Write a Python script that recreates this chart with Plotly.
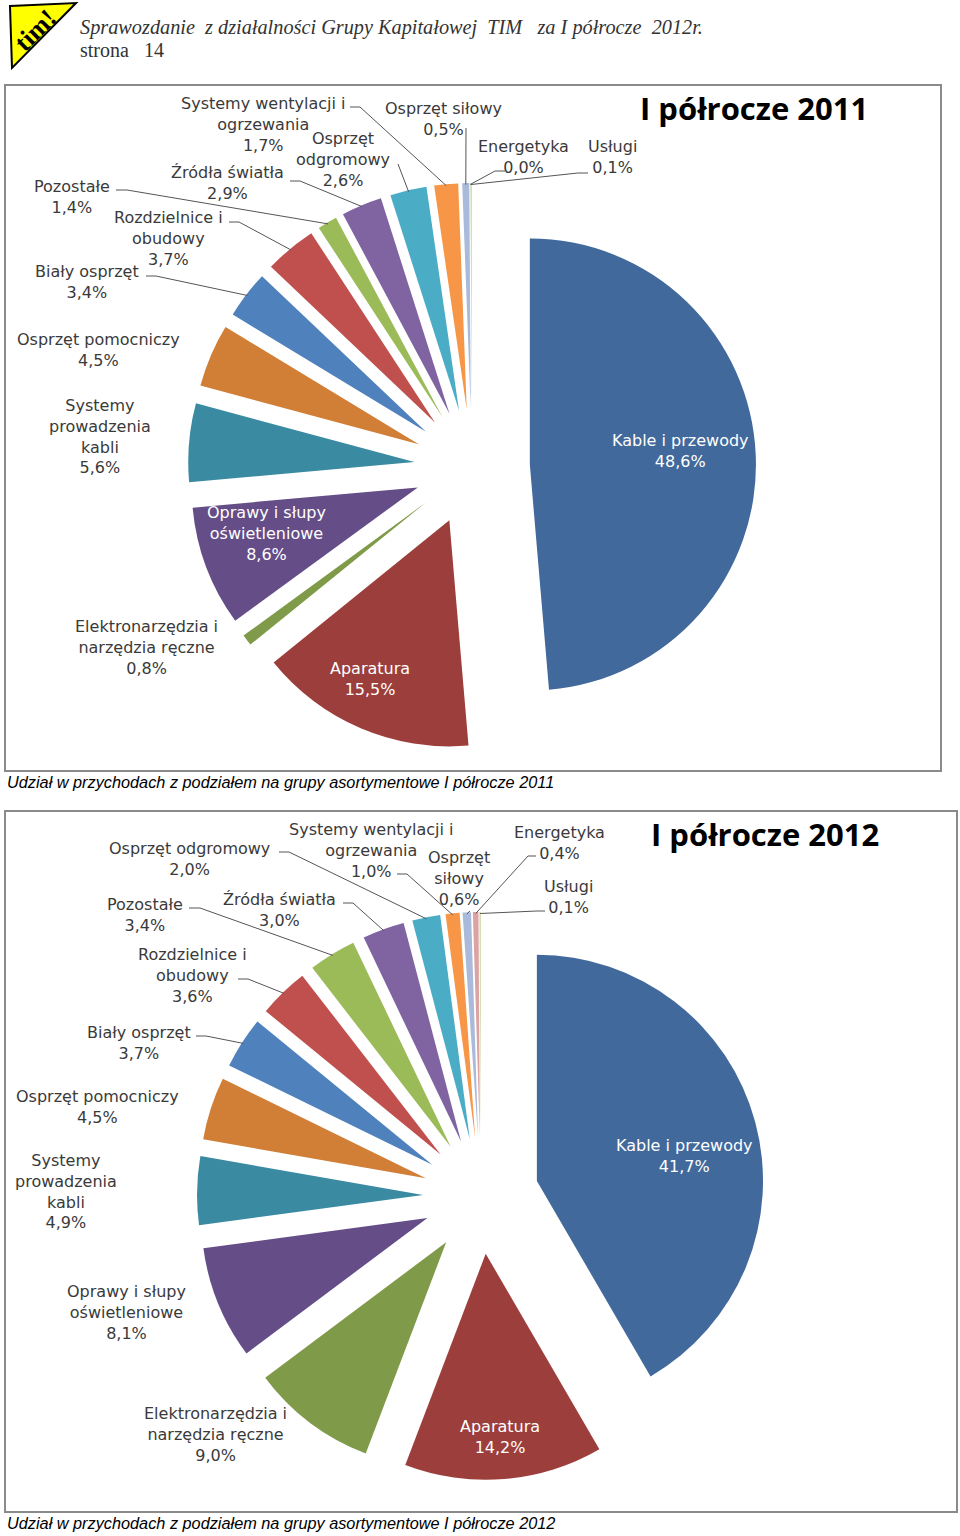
import numpy as np
import plotly.graph_objects as go

W, H = 960, 1536

# ---------------- data ----------------
categories = ["Kable i przewody", "Aparatura", "Elektronarzędzia i narzędzia ręczne",
              "Oprawy i słupy oświetleniowe", "Systemy prowadzenia kabli", "Osprzęt pomocniczy",
              "Biały osprzęt", "Rozdzielnice i obudowy", "Pozostałe", "Źródła światła",
              "Osprzęt odgromowy", "Systemy wentylacji i ogrzewania", "Osprzęt siłowy",
              "Energetyka", "Usługi"]
values_2011 = [48.6, 15.5, 0.8, 8.6, 5.6, 4.5, 3.4, 3.7, 1.4, 2.9, 2.6, 1.7, 0.5, 0.0, 0.1]
values_2012 = [41.7, 14.2, 9.0, 8.1, 4.9, 4.5, 3.7, 3.6, 3.4, 3.0, 2.0, 1.0, 0.6, 0.4, 0.1]

labels_2011 = ["Kable i przewody", "Aparatura", "Elektronarzędzia i<br>narzędzia ręczne",
               "Oprawy i słupy<br>oświetleniowe", "Systemy<br>prowadzenia<br>kabli",
               "Osprzęt pomocniczy", "Biały osprzęt", "Rozdzielnice i<br>obudowy", "Pozostałe",
               "Źródła światła", "Osprzęt<br>odgromowy", "Systemy wentylacji i<br>ogrzewania",
               "Osprzęt siłowy", "Energetyka", "Usługi"]
labels_2012 = ["Kable i przewody", "Aparatura", "Elektronarzędzia i<br>narzędzia ręczne",
               "Oprawy i słupy<br>oświetleniowe", "Systemy<br>prowadzenia<br>kabli",
               "Osprzęt pomocniczy", "Biały osprzęt", "Rozdzielnice i<br>obudowy", "Pozostałe",
               "Źródła światła", "Osprzęt odgromowy", "Systemy wentylacji i<br>ogrzewania",
               "Osprzęt<br>siłowy", "Energetyka", "Usługi"]

titles = ["I półrocze 2011", "I półrocze 2012"]
captions = ["Udział w przychodach z podziałem na grupy asortymentowe I półrocze 2011",
            "Udział w przychodach z podziałem na grupy asortymentowe I półrocze 2012"]

# ---------------- styles / layout ----------------
colors = ["#41699C", "#9C3F3C", "#7F9A48", "#654D87", "#3A8BA2", "#D17E36",
          "#4F81BD", "#C0504D", "#9BBB59", "#8064A2", "#4BACC6", "#F79646",
          "#A9BADA", "#DBA3A2", "#C9D9A4"]
PULL = 0.256
HS = 284  # half size of the pie box in px

pies = [
    dict(values=values_2011, labels=labels_2011, cx=472, cy=467),
    dict(values=values_2012, labels=labels_2012, cx=481, cy=1196),
]

# label placement: (x centre, y centre of first line, white?, leader points)
place_2011 = [
    (680, 440, True, None),
    (370, 668, True, None),
    (146, 626, False, None),
    (266, 512, True, None),
    (100, 405, False, None),
    (98, 339, False, None),
    (87, 271, False, [(146, 276), (156, 276)]),
    (168, 217, False, [(229, 222), (239, 222)]),
    (72, 186, False, [(116, 190), (127, 190)]),
    (227, 172, False, [(290, 181), (300, 181)]),
    (343, 138, False, [(398, 164)]),
    (263, 103, False, [(350, 107), (360, 107)]),
    (443, 108, False, [(466, 128)]),
    (523, 146, False, [(505, 171), (495, 171)]),
    (612, 146, False, [(588, 173), (578, 173)]),
]
place_2012 = [
    (684, 1145, True, None),
    (500, 1426, True, None),
    (215, 1413, False, None),
    (126, 1291, False, None),
    (66, 1160, False, None),
    (97, 1096, False, None),
    (139, 1032, False, [(196, 1036), (206, 1036)]),
    (192, 954, False, [(238, 979), (248, 979)]),
    (145, 904, False, [(189, 908), (200, 908)]),
    (279, 899, False, [(343, 903), (353, 903)]),
    (189, 848, False, [(279, 852), (289, 852)]),
    (371, 829, False, [(397, 874), (407, 874)]),
    (459, 857, False, [(470, 911)]),
    (559, 832, False, [(536, 856), (528, 856)]),
    (568, 886, False, [(545, 911), (537, 911)]),
]
places = [place_2011, place_2012]

LABEL_FONT = "DejaVu Sans"
FS = 16
TXT = "#3a3a3a"

fig = go.Figure()
# invisible cartesian helper so shapes/annotations can use pixel coordinates
fig.add_trace(go.Scatter(x=[0], y=[0], mode="markers", marker=dict(opacity=0),
                         hoverinfo="skip", showlegend=False))

shapes = []
annotations = []

for pie, place in zip(pies, places):
    cx, cy = pie["cx"], pie["cy"]
    fig.add_trace(go.Pie(
        values=pie["values"], labels=categories,
        sort=False, direction="clockwise", rotation=0,
        pull=[PULL] * len(categories),
        marker=dict(colors=colors, line=dict(width=0)),
        textinfo="none", hoverinfo="skip", showlegend=False,
        domain=dict(x=[(cx - HS) / W, (cx + HS) / W],
                    y=[(H - cy - HS) / H, (H - cy + HS) / H]),
    ))
    v = np.array(pie["values"], float)
    mids = (np.cumsum(v) - v / 2) / v.sum() * 2 * np.pi
    Rend = HS - 1.5
    for i, (lx, ly, white, leader) in enumerate(place):
        val = f"{pie['values'][i]:.1f}".replace(".", ",") + "%"
        text = pie["labels"][i] + "<br>" + val
        annotations.append(dict(
            x=lx, y=ly - 0.65 * FS - 1, xref="x", yref="y", text=text, showarrow=False,
            xanchor="center", yanchor="top", align="center",
            font=dict(family=LABEL_FONT, size=FS, color="white" if white else TXT)))
        if leader:
            ex = cx + Rend * np.sin(mids[i])
            ey = cy - Rend * np.cos(mids[i])
            pts = list(leader) + [(ex, ey)]
            path = "M " + " L ".join(f"{px:.1f},{py:.1f}" for px, py in pts)
            shapes.append(dict(type="path", xref="x", yref="y", path=path,
                               line=dict(color="#555555", width=1)))

# frames around the charts
shapes.append(dict(type="rect", xref="x", yref="y", x0=5, y0=85, x1=941, y1=771,
                   line=dict(color="#8a8a8a", width=2)))
shapes.append(dict(type="rect", xref="x", yref="y", x0=5, y0=811, x1=957, y1=1512,
                   line=dict(color="#8a8a8a", width=2)))
# logo
shapes.append(dict(type="path", xref="x", yref="y", path="M 10,6 L 76,3 L 12,68 Z",
                   fillcolor="#FFFF00", line=dict(color="black", width=2)))
annotations.append(dict(x=35, y=30, xref="x", yref="y", text="<b>tim!</b>", showarrow=False,
                        textangle=-45, font=dict(family="Liberation Serif", size=26, color="black")))

# header
annotations.append(dict(x=78, y=27, xref="x", yref="y", xanchor="left", yanchor="middle",
                        showarrow=False,
                        text="<i>Sprawozdanie  z działalności Grupy Kapitałowej  TIM   za I półrocze  2012r.</i>",
                        font=dict(family="Liberation Serif", size=20.3, color="#333333")))
annotations.append(dict(x=78, y=50, xref="x", yref="y", xanchor="left", yanchor="middle",
                        showarrow=False, text="strona   14",
                        font=dict(family="Liberation Serif", size=20, color="#333333")))

# chart titles
for t, (tx, ty) in zip(titles, [(754, 108), (765, 834)]):
    annotations.append(dict(x=tx, y=ty, xref="x", yref="y", showarrow=False,
                            xanchor="center", yanchor="middle", text=f"<b>{t}</b>",
                            font=dict(family="Open Sans", size=31, color="black")))
# captions
for c, cy in zip(captions, [782, 1523]):
    annotations.append(dict(x=5, y=cy, xref="x", yref="y", showarrow=False,
                            xanchor="left", yanchor="middle", text=f"<i>{c}</i>",
                            font=dict(family="Liberation Sans", size=16.3, color="black")))

fig.update_layout(
    width=W, height=H, margin=dict(l=0, r=0, t=0, b=0),
    paper_bgcolor="white", plot_bgcolor="white",
    xaxis=dict(range=[0, W], visible=False, fixedrange=True, domain=[0, 1]),
    yaxis=dict(range=[H, 0], visible=False, fixedrange=True, domain=[0, 1]),
    shapes=shapes, annotations=annotations,
)

fig.write_html("out.html", config={"displayModeBar": False},
               post_script="document.body.style.margin='0';")
